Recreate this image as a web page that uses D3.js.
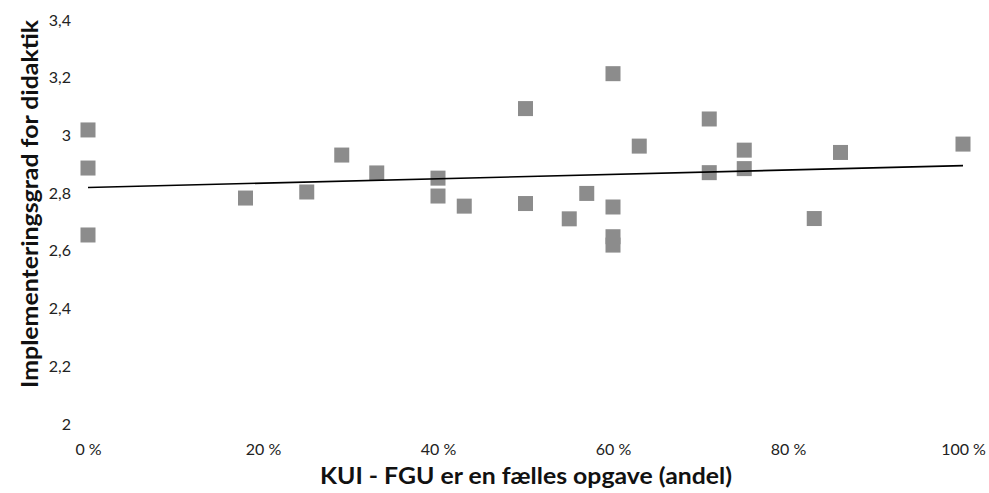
<!DOCTYPE html>
<html>
<head>
<meta charset="utf-8">
<script src="https://cdn.jsdelivr.net/npm/d3@7"></script>
<style>
  html, body { margin: 0; padding: 0; background: #fff; }
  svg { display: block; }
</style>
</head>
<body>
<svg id="chart" width="989" height="493"></svg>
<script>
// Share of KUI–FGU answered as a joint task (x, 0–1) vs. implementation score (y)
const shareValues = [0, 0, 0, 0.18, 0.25, 0.29, 0.33, 0.40, 0.40, 0.43, 0.50, 0.50, 0.55, 0.57, 0.60, 0.60, 0.60, 0.60, 0.63, 0.71, 0.71, 0.75, 0.75, 0.83, 0.86, 1.00];
const scoreValues = [3.019, 2.887, 2.655, 2.783, 2.804, 2.932, 2.870, 2.852, 2.790, 2.755, 3.093, 2.764, 2.711, 2.799, 3.214, 2.752, 2.649, 2.620, 2.963, 3.057, 2.871, 2.949, 2.885, 2.712, 2.941, 2.970];
const xTickValues = [0, 0.2, 0.4, 0.6, 0.8, 1.0];
const yTickValues = [2, 2.2, 2.4, 2.6, 2.8, 3.0, 3.2, 3.4];
const xTitle = "KUI - FGU er en fælles opgave (andel)";
const yTitle = "Implementeringsgrad for didaktik";

const points = shareValues.map((s, i) => ({ x: s, y: scoreValues[i] }));

const svg = d3.select("#chart");
const font = "Lato, sans-serif";

const x = d3.scaleLinear().domain([0, 1]).range([88, 963]);
const y = d3.scaleLinear().domain([2, 3.4]).range([424, 20]);

const da = d3.formatLocale({ decimal: ",", thousands: ".", grouping: [3], currency: ["", " kr"] });
const fmtY = da.format("~g");
const fmtX = d => Math.round(d * 100) + " %";

// y axis (labels only)
const yAxis = svg.append("g")
  .attr("transform", "translate(71,0)")
  .call(d3.axisLeft(y).tickValues(yTickValues).tickFormat(fmtY).tickSize(0).tickPadding(0));
yAxis.select(".domain").remove();
yAxis.selectAll("text")
  .style("font-family", font).style("font-size", "16px").attr("fill", "#222");

// x axis (labels only)
const xAxis = svg.append("g")
  .attr("transform", "translate(0,444)")
  .call(d3.axisBottom(x).tickValues(xTickValues).tickFormat(fmtX).tickSize(0).tickPadding(0));
xAxis.select(".domain").remove();
xAxis.selectAll("text")
  .style("font-family", font).style("font-size", "16px").attr("fill", "#222");

// least-squares trend line
const mx = d3.mean(points, d => d.x), my = d3.mean(points, d => d.y);
const slope = d3.sum(points, d => (d.x - mx) * (d.y - my)) / d3.sum(points, d => (d.x - mx) ** 2);
const icpt = my - slope * mx;
const trend = [0, 1].map(v => ({ x: v, y: icpt + slope * v }));

// markers
const sz = 15;
svg.append("g").selectAll("rect")
  .data(points).join("rect")
  .attr("x", d => x(d.x) - sz / 2)
  .attr("y", d => y(d.y) - sz / 2)
  .attr("width", sz).attr("height", sz)
  .attr("fill", "#8c8c8c");

svg.append("path")
  .datum(trend)
  .attr("d", d3.line().x(d => x(d.x)).y(d => y(d.y)))
  .attr("stroke", "#000").attr("stroke-width", 1.6).attr("fill", "none");

// axis titles
svg.append("text")
  .attr("x", 526).attr("y", 484)
  .attr("text-anchor", "middle")
  .style("font-family", font).style("font-weight", "bold").style("font-size", "22px")
  .attr("fill", "#111")
  .attr("textLength", 412).attr("lengthAdjust", "spacingAndGlyphs")
  .text(xTitle);

svg.append("text")
  .attr("transform", "translate(38,204) rotate(-90)")
  .attr("text-anchor", "middle")
  .style("font-family", font).style("font-weight", "bold").style("font-size", "22px")
  .attr("fill", "#111")
  .attr("textLength", 368).attr("lengthAdjust", "spacingAndGlyphs")
  .text(yTitle);
</script>
</body>
</html>
